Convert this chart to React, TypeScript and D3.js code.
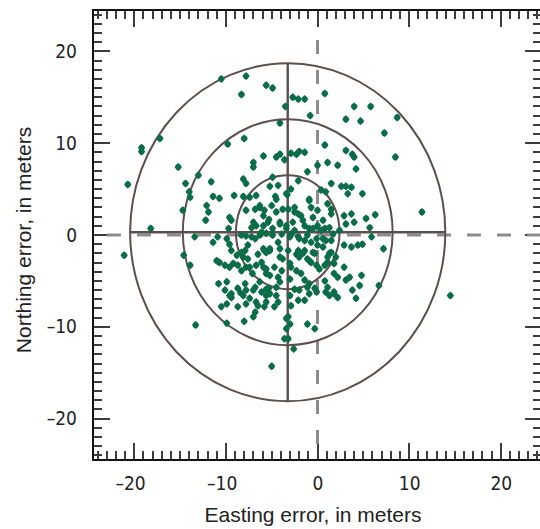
import React, { useRef, useEffect } from 'react';
import * as d3 from 'd3';

// axis setup
const xDomain = [-24.5, 24.5];
const yDomain = [-24.5, 24.5];
const xMajor = [-20, -10, 0, 10, 20];
const yMajor = [-20, -10, 0, 10, 20];

// reference rings (easting / northing radii, meters)
const ringCenter = [-3.25, 0.3];
const ringRadiiE = [5.65, 11.45, 17.2];
const ringRadiiN = [6.2, 12.3, 18.4];

// [easting error, northing error] in meters
const points: [number, number][] = [
  [-7.8, 17.3], [-10.5, 17.0], [-5.6, 16.3], [-4.9, 16.0], [-8.3, 15.3], [-3.5, 14.0], [-17.2, 10.5], [-19.2, 9.5],
  [-19.2, 9.1], [-4.1, 12.2], [-8.0, 10.5], [-9.8, 9.9], [-5.9, 8.6], [-3.6, 8.2], [-7.0, 7.9], [-7.0, 7.4],
  [-15.2, 7.4], [-13.0, 6.5], [-8.1, 6.1], [-7.8, 5.6], [-11.6, 5.8], [-20.7, 5.5], [-14.4, 5.6], [-4.9, 6.3],
  [-5.2, 5.3], [-4.3, 5.4], [-14.0, 4.7], [-13.9, 4.1], [-11.4, 4.2], [-10.7, 4.0], [-9.1, 4.3], [-8.1, 4.2],
  [-7.4, 4.1], [-6.7, 4.3], [-4.6, 4.2], [-3.4, 4.5],
  [0.8, 15.4], [-2.7, 15.0], [-2.1, 14.8], [-1.4, 14.8], [4.0, 14.0], [5.8, 14.0], [-0.8, 13.0], [3.1, 12.6],
  [4.7, 12.4], [8.7, 12.8], [7.3, 11.1], [0.8, 9.8], [8.5, 8.5], [-2.9, 8.9], [-2.0, 9.1], [3.1, 9.2],
  [3.8, 8.8], [4.0, 8.5], [0.0, 7.6], [1.1, 7.9], [2.2, 7.6], [4.2, 7.2], [-1.1, 6.9], [1.5, 5.6],
  [2.6, 5.3], [3.1, 5.3], [3.7, 5.2], [3.3, 4.5], [4.9, 4.5], [0.4, 4.9], [0.9, 4.7], [-3.3, 4.4], [-0.9, 3.9],
  [-18.2, 0.7], [-21.1, -2.2], [-14.7, 2.7], [-12.1, 3.2], [-11.9, 2.5], [-12.2, 1.6], [-9.6, 1.9], [-9.4, 1.6],
  [-7.8, 2.7], [-7.0, 1.4], [-6.7, 1.0], [-6.3, 3.0], [-5.9, 2.1], [-5.3, 1.7], [-4.5, 3.9], [-3.8, 2.8],
  [-4.1, 1.4], [-3.4, 0.7], [-13.4, -0.2], [-10.9, -0.2], [-9.9, -0.4], [-9.6, -1.0], [-7.8, -0.1], [-6.8, -0.4],
  [-7.6, -1.1], [-8.3, -1.9], [-8.1, -2.4], [-5.9, -1.5], [-5.6, -1.9], [-5.2, -1.7], [-3.8, -2.6], [-14.6, -2.2],
  [-13.9, -3.3], [-10.7, -3.0], [-10.1, -3.3], [-9.6, -3.5], [-9.2, -3.1], [-8.3, -3.9], [-7.4, -3.5], [-7.1, -4.2],
  [-6.1, -3.0], [-5.9, -3.5], [-5.6, -4.2], [-5.2, -4.4], [-4.3, -4.6], [-10.8, -5.3], [-10.1, -6.0], [-9.6, -6.6],
  [-8.7, -5.8], [-8.4, -6.3], [-8.1, -6.6], [-10.5, -7.8], [-9.4, -6.8], [-7.4, -6.9], [-6.7, -7.3], [-7.0, -6.0],
  [-6.1, -6.2], [-5.3, -5.8], [-5.6, -6.6], [-6.8, -8.4], [-7.0, -8.9], [-5.8, -7.8], [-4.5, -6.6], [-4.3, -7.3],
  [-3.4, -9.1], [-8.0, -9.4], [-9.9, -9.6], [-13.3, -9.8], [-3.6, -11.3], [-5.0, -14.3], [-4.3, -0.8], [-4.1, -1.5],
  [-4.9, 0.7], [-6.1, 0.3], [-9.7, 0.7],
  [-0.9, 3.75], [1.1, 3.4], [1.5, 2.8], [2.9, 2.1], [3.7, 2.3], [4.0, 1.4], [3.1, 1.2], [5.3, 1.8],
  [6.3, 2.2], [5.7, 0.8], [11.4, 2.5], [-3.2, 2.8], [-2.5, 2.5], [-1.8, 2.1], [-2.7, 1.4], [-1.6, 1.6],
  [-0.9, 0.7], [0.0, 1.0], [0.8, 0.7], [1.3, 0.8], [2.4, 0.5], [-2.9, 0.1], [-2.1, -0.2], [-1.4, -0.6],
  [-0.7, -0.8], [0.0, -1.1], [0.6, -0.4], [1.5, -0.6], [2.9, -1.1], [3.7, -1.3], [4.4, -1.1], [4.9, -1.0],
  [5.9, -0.2], [7.2, -1.5], [-2.1, -1.7], [-1.6, -2.0], [-2.0, -2.4], [-1.1, -2.6], [-0.3, -2.0], [-0.7, -3.0],
  [-0.1, -3.3], [0.8, -3.3], [1.1, -2.4], [1.3, -2.0], [-2.9, -3.5], [-2.3, -3.9], [-1.8, -4.2], [2.9, -3.5],
  [1.8, -4.2], [2.2, -4.6], [3.5, -4.6], [3.1, -4.9], [4.8, -4.4], [4.6, -5.5], [3.8, -6.0], [4.2, -6.9],
  [6.7, -5.5], [-1.4, -4.9], [-0.9, -5.3], [-0.3, -5.8], [-0.1, -6.2], [-0.9, -6.4], [0.9, -6.2], [1.8, -6.2],
  [1.3, -6.6], [2.2, -6.8], [-3.0, -6.6], [-2.1, -7.1], [-1.4, -7.1], [-2.9, -7.7], [-3.2, -8.9], [-3.0, -9.7],
  [-3.4, -10.2], [-3.2, -11.3], [-1.1, -9.7], [-0.3, -10.2], [-2.6, -12.4], [14.5, -6.6],
  [-4.5, 8.5], [-4.1, 8.8], [-2.3, 8.8], [-1.4, 9.0], [-2.9, 5.0], [-2.1, 5.9], [-6.3, 3.2], [-6.8, 2.8],
  [-5.8, 2.7], [-5.0, 3.2], [-4.5, 2.5], [-2.5, 3.0], [-2.1, 2.3], [-0.7, 3.0], [0.0, 2.7], [-0.5, 1.9],
  [0.6, 1.6], [1.5, 2.3], [-7.2, 0.8], [-5.9, 1.0], [-5.4, 1.4], [-4.1, 1.2], [-3.4, 1.0], [-1.4, 1.0],
  [-0.5, 0.7], [0.4, 0.5], [1.7, 0.1],
  [-3.9, 0.1], [-3.0, -0.2], [-2.5, 0.5], [-2.0, -0.4], [-1.1, 0.0], [-0.1, -0.4], [0.9, -0.6], [-8.3, 0.0],
  [-7.2, -0.2], [-6.3, 0.0], [-5.6, 0.2], [-4.9, 0.0], [-11.4, -0.8],
  [-9.4, -1.7], [-8.8, -2.2], [-7.9, -1.7], [-7.6, -2.6], [-6.5, -2.1], [-5.8, -1.7], [-5.2, -1.5], [-4.1, -2.4],
  [-3.2, -1.7], [-2.3, -2.1], [-1.4, -1.7], [-0.5, -1.9], [0.6, -1.3], [1.5, -1.9], [2.0, -2.4],
  [-11.0, -2.8], [-8.7, -3.3], [-7.8, -3.5], [-6.7, -3.3], [-5.6, -3.7], [-4.7, -3.5], [-3.9, -3.9], [-3.0, -3.1],
  [-0.9, -2.8], [0.2, -3.7], [1.1, -3.0], [1.8, -3.1],
  [-9.9, -5.1], [-9.4, -6.4], [-7.9, -5.3], [-7.8, -6.0], [-6.8, -5.7], [-6.3, -5.1], [-5.6, -5.9], [-5.2, -6.4],
  [-4.5, -5.7], [-4.1, -5.1], [-3.0, -4.8], [-2.5, -5.9], [-2.0, -6.0], [-1.1, -5.7], [0.8, -5.0], [1.1, -5.7],
  [1.8, -6.4],
  [-9.9, -7.5], [-8.7, -7.8], [-7.8, -7.5], [-6.5, -7.7], [-5.6, -7.3], [-4.7, -7.8],
];

const width = 540;
const height = 529;
const m = { left: 93, right: 542, top: 10, bottom: 460 };

const tickColor = '#3c3c3c';
const ringColor = '#5e4f4f';
const dotColor = '#0b6c48';
const tickFont = "'Liberation Sans Narrow', 'DejaVu Sans Condensed', 'Liberation Sans', Arial, sans-serif";
const labelFont = "'Liberation Sans', Arial, sans-serif";

// small four pointed star marker
const star = {
  draw(ctx: any, size: number) {
    const r = Math.sqrt(size);
    const k = r * 0.55;
    ctx.moveTo(0, -r);
    ctx.lineTo(k, -k);
    ctx.lineTo(r * 0.9, 0);
    ctx.lineTo(k, k);
    ctx.lineTo(0, r);
    ctx.lineTo(-k, k);
    ctx.lineTo(-r * 0.9, 0);
    ctx.lineTo(-k, -k);
    ctx.closePath();
  },
};

const fmt = (d: any) => (d < 0 ? '\u2013' + Math.abs(d) : String(d));

const App = () => {
  const ref = useRef<SVGSVGElement>(null);

  useEffect(() => {
    const svg = d3.select(ref.current);
    svg.selectAll('*').remove();

    const x = d3.scaleLinear().domain(xDomain).range([m.left, m.right]);
    const y = d3.scaleLinear().domain(yDomain).range([m.bottom, m.top]);

    const minorX = d3.range(Math.ceil(xDomain[0]), xDomain[1], 1);
    const minorY = d3.range(Math.ceil(yDomain[0]), yDomain[1], 1);

    svg.append('rect').attr('width', width).attr('height', height).attr('fill', '#fff');

    // ruler ticks on all four sides, pointing inward, built as one path each
    const ruler = (vals: number[], len: number, w: number) => {
      const p = d3.path();
      vals.forEach(v => {
        const px = Math.round(x(v));
        const py = Math.round(y(v));
        p.moveTo(px, m.bottom); p.lineTo(px, m.bottom - len);
        p.moveTo(px, m.top); p.lineTo(px, m.top + len);
        p.moveTo(m.left, py); p.lineTo(m.left + len, py);
        p.moveTo(m.right, py); p.lineTo(m.right - len, py);
      });
      svg.append('path')
        .attr('d', p.toString())
        .attr('fill', 'none')
        .attr('stroke', tickColor)
        .attr('stroke-width', w);
    };
    ruler(minorX.length > minorY.length ? minorX : minorY, 9, 2);
    ruler(xMajor, 17, 2);

    // dashed zero lines
    svg.append('line')
      .attr('x1', m.left + 14).attr('x2', m.right)
      .attr('y1', y(0)).attr('y2', y(0))
      .attr('stroke', '#8c8c8c').attr('stroke-width', 3).attr('stroke-dasharray', '14 16');
    svg.append('line')
      .attr('x1', x(0)).attr('x2', x(0))
      .attr('y1', m.top + 30).attr('y2', m.bottom)
      .attr('stroke', '#8c8c8c').attr('stroke-width', 3).attr('stroke-dasharray', '14 16');

    // rings and cross hairs
    const cx = x(ringCenter[0]);
    const cy = y(ringCenter[1]);
    svg.selectAll('ellipse.ring')
      .data(ringRadiiE)
      .enter().append('ellipse')
        .attr('class', 'ring')
        .attr('cx', cx)
        .attr('cy', cy)
        .attr('rx', d => x(ringCenter[0] + d) - cx)
        .attr('ry', (d, i) => cy - y(ringCenter[1] + ringRadiiN[i]))
        .attr('fill', 'none')
        .attr('stroke', ringColor)
        .attr('stroke-width', 2);
    const rE = ringRadiiE[ringRadiiE.length - 1];
    const rN = ringRadiiN[ringRadiiN.length - 1];
    svg.append('line')
      .attr('x1', x(ringCenter[0] - rE)).attr('x2', x(ringCenter[0] + rE))
      .attr('y1', cy).attr('y2', cy)
      .attr('stroke', ringColor).attr('stroke-width', 2.4);
    svg.append('line')
      .attr('x1', cx).attr('x2', cx)
      .attr('y1', y(ringCenter[1] + rN)).attr('y2', y(ringCenter[1] - rN))
      .attr('stroke', ringColor).attr('stroke-width', 2.4);

    // points
    const sym = d3.symbol().type(star as any).size(16);
    svg.append('g')
      .selectAll('path')
      .data(points)
      .enter().append('path')
        .attr('transform', d => `translate(${x(d[0])},${y(d[1])})`)
        .attr('d', sym as any)
        .attr('fill', dotColor);

    // frame (right edge falls just outside the window)
    svg.append('path')
      .attr('d', `M${m.right},${m.top}H${m.left}V${m.bottom}H${m.right}`)
      .attr('fill', 'none')
      .attr('stroke', '#111')
      .attr('stroke-width', 2);

    // tick labels
    const bx = svg.append('g').attr('transform', `translate(0,${m.bottom})`)
      .call(d3.axisBottom(x).tickValues(xMajor).tickSize(0).tickPadding(17).tickFormat(fmt));
    bx.select('.domain').remove();
    bx.selectAll('text')
      .attr('dx', (d: any) => (d < 0 ? '-0.22em' : 0))
      .attr('font-family', tickFont).attr('font-size', 19).attr('fill', '#222');

    const ly = svg.append('g').attr('transform', `translate(${m.left},0)`)
      .call(d3.axisLeft(y).tickValues(yMajor).tickSize(0).tickPadding(16).tickFormat(fmt));
    ly.select('.domain').remove();
    ly.selectAll('text').attr('font-family', tickFont).attr('font-size', 19).attr('fill', '#222');

    // axis titles
    svg.append('text')
      .attr('x', 313).attr('y', 522)
      .attr('text-anchor', 'middle')
      .attr('font-family', labelFont).attr('font-size', 21).attr('fill', '#222')
      .text('Easting error, in meters');
    svg.append('text')
      .attr('transform', 'translate(31,240) rotate(-90)')
      .attr('text-anchor', 'middle')
      .attr('font-family', labelFont).attr('font-size', 21).attr('fill', '#222')
      .text('Northing error, in meters');
  }, []);

  return (
    <svg ref={ref} width={width} height={height}
      style={{ position: 'absolute', left: 0, top: 0, display: 'block' }} />
  );
};

export default App;
